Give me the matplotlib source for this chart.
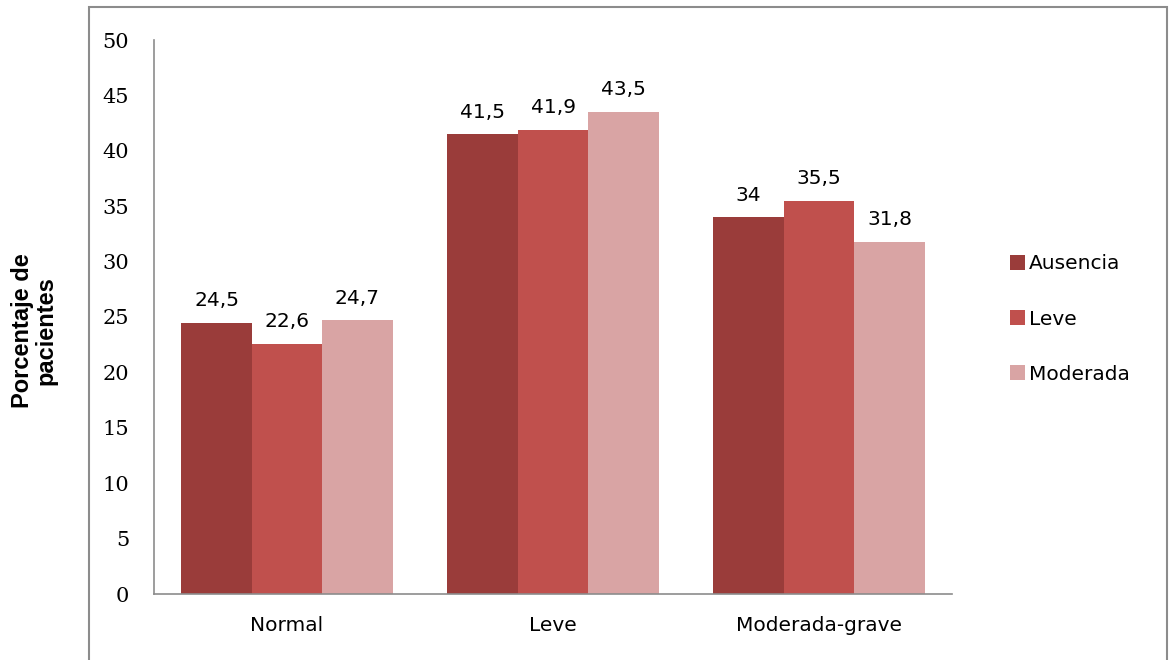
import matplotlib.pyplot as plt
import matplotlib.patches as mpatches
import numpy as np

# data
categories = ['Normal', 'Leve', 'Moderada-grave']
series_names = ['Ausencia', 'Leve', 'Moderada']
ausencia = [24.5, 41.5, 34]
leve = [22.6, 41.9, 35.5]
moderada = [24.7, 43.5, 31.8]
value_labels = [['24,5', '41,5', '34'], ['22,6', '41,9', '35,5'], ['24,7', '43,5', '31,8']]
y_ticks = [0, 5, 10, 15, 20, 25, 30, 35, 40, 45, 50]

colors = ['#9A3C3A', '#C0504D', '#D9A4A4']

W, H = 1171, 660
fig = plt.figure(figsize=(W / 100, H / 100), dpi=100)
ax = fig.add_axes([154 / W, 1 - 594 / H, (952 - 154) / W, (594 - 40) / H])

# outer chart border
fig.patches.append(mpatches.Rectangle((89 / W, -0.05), (1167 - 89) / W, 1 - 7 / H + 0.05,
                                      transform=fig.transFigure, fill=False,
                                      edgecolor='#8c8c8c', linewidth=1.5))

x = np.arange(len(categories))
bw = 0.265
all_series = [ausencia, leve, moderada]
for i, (vals, name, col) in enumerate(zip(all_series, series_names, colors)):
    pos = x + (i - 1) * bw
    ax.bar(pos, vals, width=bw, color=col, label=name)
    for px, v, lab in zip(pos, vals, value_labels[i]):
        ax.annotate(lab, (px, v), xytext=(0, 12), textcoords='offset points',
                    ha='center', va='baseline', fontsize=14.5, color='black')

ax.set_xlim(-0.5, 2.5)
ax.set_ylim(0, 50)
ax.set_yticks(y_ticks)
ax.set_yticklabels([str(t) for t in y_ticks], family='DejaVu Serif', fontsize=15)
ax.set_xticks(x)
ax.set_xticklabels(categories, fontsize=14.5, color='black')
ax.tick_params(axis='y', length=0, pad=18)
ax.tick_params(axis='x', length=0, pad=16)
for s in ['top', 'right']:
    ax.spines[s].set_visible(False)
for s in ['left', 'bottom']:
    ax.spines[s].set_color('#8c8c8c')
    ax.spines[s].set_linewidth(1.2)

fig.text(34 / W, 1 - 331 / H, 'Porcentaje de\npacientes', rotation=90,
         ha='center', va='center', family='Liberation Sans', fontweight='bold',
         fontsize=17, linespacing=1.0)

fig.legend(loc='center left', bbox_to_anchor=(1010 / W, 1 - 319 / H), frameon=False,
           fontsize=14.5, handlelength=0.75, handleheight=0.75, handletextpad=0.2,
           labelspacing=1.8, borderpad=0, borderaxespad=0)

fig.savefig('out.png', dpi=100, facecolor='white')
